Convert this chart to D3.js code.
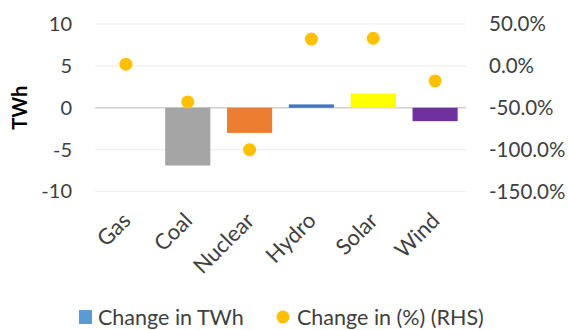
<!DOCTYPE html>
<html>
<head>
<meta charset="utf-8">
<script src="https://cdn.jsdelivr.net/npm/d3@7"></script>
<style>
  body { margin: 0; background: #fff; }
  svg { font-family: Lato, "Open Sans", sans-serif; }
</style>
</head>
<body>
<svg></svg>
<script>
let categories = ["Gas", "Coal", "Nuclear", "Hydro", "Solar", "Wind"];
let changeTWh = [0, -6.9, -3.0, 0.4, 1.7, -1.6];
let changePct = [2, -43, -100, 32, 33, -18];
let leftTicks = [10, 5, 0, -5, -10];
let rightTicks = [50, 0, -50, -100, -150];
let barColors = ["#5b9bd5", "#a5a5a5", "#ed7d31", "#4472c4", "#ffff00", "#7030a0"];

let svg_width = 569, svg_height = 330;
let plotLeft = 95, plotRight = 466, plotTop = 24, plotBottom = 191.5;

let svg = d3.select('svg')
    .attr("width", svg_width)
    .attr("height", svg_height);

let x = d3.scaleBand()
    .domain(categories)
    .range([plotLeft, plotRight])
    .paddingInner(0.27)
    .paddingOuter(0.135);

let y1 = d3.scaleLinear().domain([-10, 10]).range([plotBottom, plotTop]);
let y2 = d3.scaleLinear().domain([-150, 50]).range([plotBottom, plotTop]);

// gridlines
svg.append('g')
    .selectAll('line')
    .data(leftTicks).enter().append('line')
    .attr('x1', plotLeft).attr('x2', plotRight)
    .attr('y1', d => y1(d)).attr('y2', d => y1(d))
    .attr('stroke', d => d === 0 ? '#d0d0d0' : '#efefef')
    .attr('stroke-width', d => d === 0 ? 1.5 : 1.2);

// left axis (plain hyphen for negatives, like the original)
let leftAxis = svg.append('g')
    .attr('transform', `translate(${plotLeft - 23},0)`)
    .call(d3.axisLeft(y1).tickValues(leftTicks).tickSize(0).tickPadding(0)
        .tickFormat(d => String(d)));
leftAxis.select('.domain').remove();
leftAxis.selectAll('text').attr('font-size', 20).attr('fill', '#404040')
    .attr('font-family', 'Lato, sans-serif');

// right axis
let rightAxis = svg.append('g')
    .attr('transform', `translate(${plotRight + 23},0)`)
    .call(d3.axisRight(y2).tickValues(rightTicks).tickSize(0).tickPadding(0)
        .tickFormat(d => d.toFixed(1) + '%'));
rightAxis.select('.domain').remove();
rightAxis.selectAll('text').attr('font-size', 20.5).attr('fill', '#404040')
    .attr('font-family', 'Lato, sans-serif');

// axis title
svg.append('text')
    .attr('transform', `translate(27,${y1(0)}) rotate(-90)`)
    .attr('text-anchor', 'middle')
    .attr('font-size', 20).attr('font-weight', 'bold').attr('fill', '#000')
    .text('TWh');

// bars
svg.append('g')
    .selectAll('rect')
    .data(categories).enter().append('rect')
    .attr('x', d => x(d))
    .attr('width', x.bandwidth())
    .attr('y', (d, i) => y1(Math.max(0, changeTWh[i])))
    .attr('height', (d, i) => Math.abs(y1(changeTWh[i]) - y1(0)))
    .attr('fill', (d, i) => barColors[i]);

// dots
svg.append('g')
    .selectAll('circle')
    .data(categories).enter().append('circle')
    .attr('r', 6.5).attr('fill', '#ffc000')
    .attr('cx', d => x(d) + x.bandwidth() / 2)
    .attr('cy', (d, i) => y2(changePct[i]));

// category labels
svg.append('g')
    .selectAll('text')
    .data(categories).enter().append('text')
    .attr('transform', d => `translate(${x(d) + x.bandwidth() / 2 + 6},222) rotate(-45)`)
    .attr('text-anchor', 'end')
    .attr('font-size', 22).attr('fill', '#404040')
    .text(d => d);

// legend (nudged up a little so the text is not clipped)
let legend = svg.append('g');
legend.append('rect')
    .attr('x', 79).attr('y', 310).attr('width', 13).attr('height', 14)
    .attr('fill', '#5b9bd5');
legend.append('text')
    .attr('x', 98).attr('y', 325)
    .attr('font-size', 21.5).attr('fill', '#404040')
    .text('Change in TWh');
legend.append('circle')
    .attr('cx', 283).attr('cy', 317).attr('r', 6.5)
    .attr('fill', '#ffc000');
legend.append('text')
    .attr('x', 297).attr('y', 325)
    .attr('font-size', 21.5).attr('fill', '#404040')
    .text('Change in (%) (RHS)');
</script>
</body>
</html>
